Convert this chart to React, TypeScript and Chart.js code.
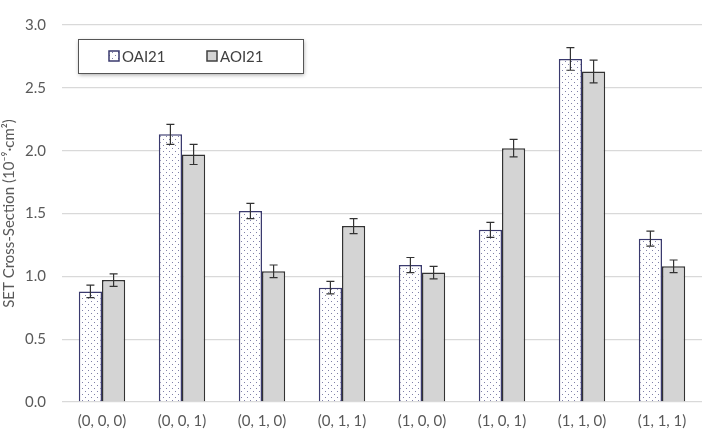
import React, { useEffect, useRef } from "react";
import { Chart, registerables } from "chart.js";

Chart.register(...registerables);

const categories = ["(0, 0, 0)", "(0, 0, 1)", "(0, 1, 0)", "(0, 1, 1)", "(1, 0, 0)", "(1, 0, 1)", "(1, 1, 0)", "(1, 1, 1)"];
const oaiValues = [0.88, 2.13, 1.52, 0.91, 1.09, 1.37, 2.73, 1.30];
const oaiErrors = [0.05, 0.08, 0.06, 0.05, 0.06, 0.06, 0.09, 0.06];
const aoiValues = [0.97, 1.97, 1.04, 1.40, 1.03, 2.02, 2.63, 1.08];
const aoiErrors = [0.05, 0.08, 0.05, 0.06, 0.05, 0.07, 0.09, 0.05];
const seriesLabels = ["OAI21", "AOI21"];
const yTitle = "SET Cross-Section (10\u207B\u2079\u00B7cm\u00B2)";

const FONT = "Lato, 'Open Sans', sans-serif";

function makePattern(): CanvasPattern | string {
  const c = document.createElement("canvas");
  c.width = 6;
  c.height = 6;
  const g = c.getContext("2d");
  if (!g) return "#ffffff";
  g.fillStyle = "#ffffff";
  g.fillRect(0, 0, 6, 6);
  g.fillStyle = "#8080a8";
  g.fillRect(1, 1, 1, 1);
  g.fillRect(4, 4, 1, 1);
  const p = g.createPattern(c, "repeat");
  return p || "#ffffff";
}

const errorBarPlugin = {
  id: "errorBars",
  afterDatasetsDraw(chart: any) {
    const ctx = chart.ctx;
    const y = chart.scales.y;
    const errs = [oaiErrors, aoiErrors];
    ctx.save();
    ctx.strokeStyle = "#333333";
    ctx.lineWidth = 1.2;
    chart.data.datasets.forEach((ds: any, di: number) => {
      const meta = chart.getDatasetMeta(di);
      meta.data.forEach((bar: any, i: number) => {
        const v = ds.data[i];
        const e = errs[di][i];
        const x = bar.x;
        const yt = y.getPixelForValue(v + e);
        const yb = y.getPixelForValue(v - e);
        ctx.beginPath();
        ctx.moveTo(x, yt);
        ctx.lineTo(x, yb);
        ctx.moveTo(x - 4, yt);
        ctx.lineTo(x + 4, yt);
        ctx.moveTo(x - 4, yb);
        ctx.lineTo(x + 4, yb);
        ctx.stroke();
      });
    });
    ctx.restore();
  },
};

const legendPlugin = {
  id: "boxLegend",
  afterDraw(chart: any) {
    const ctx = chart.ctx;
    const area = chart.chartArea;
    const x0 = area.left + 16;
    const y0 = area.top + 14;
    const w = 225;
    const h = 34;
    ctx.save();
    ctx.shadowColor = "rgba(0,0,0,0.35)";
    ctx.shadowBlur = 4;
    ctx.shadowOffsetX = 1;
    ctx.shadowOffsetY = 2;
    ctx.fillStyle = "#ffffff";
    ctx.fillRect(x0, y0, w, h);
    ctx.shadowColor = "transparent";
    ctx.strokeStyle = "#555555";
    ctx.lineWidth = 1;
    ctx.strokeRect(x0 + 0.5, y0 + 0.5, w, h);
    const items = [
      { label: seriesLabels[0], fill: chart.data.datasets[0].backgroundColor, stroke: "#3a3a6e", x: x0 + 31 },
      { label: seriesLabels[1], fill: "#d4d4d4", stroke: "#404040", x: x0 + 129 },
    ];
    ctx.font = `15px ${FONT}`;
    ctx.textBaseline = "middle";
    items.forEach((it) => {
      const sy = y0 + h / 2 - 5;
      ctx.fillStyle = it.fill;
      ctx.fillRect(it.x, sy, 10, 10);
      ctx.strokeStyle = it.stroke;
      ctx.lineWidth = 1.5;
      ctx.strokeRect(it.x, sy, 10, 10);
      ctx.fillStyle = "#404040";
      ctx.fillText(it.label, it.x + 13, y0 + h / 2 + 1);
    });
    ctx.restore();
  },
};

export default function App() {
  const ref = useRef<HTMLCanvasElement>(null);
  useEffect(() => {
    document.body.style.margin = "0";
    if (!ref.current) return;
    const pattern = makePattern();
    const chart = new Chart(ref.current, {
      type: "bar",
      data: {
        labels: categories,
        datasets: [
          {
            label: seriesLabels[0],
            data: oaiValues,
            backgroundColor: pattern as any,
            borderColor: "#3a3a6e",
            borderWidth: 1.5,
          },
          {
            label: seriesLabels[1],
            data: aoiValues,
            backgroundColor: "#d4d4d4",
            borderColor: "#333333",
            borderWidth: 1.5,
          },
        ],
      },
      options: {
        responsive: false,
        animation: false,
        layout: { padding: { top: 12, right: 11, left: 0, bottom: 10 } },
        datasets: { bar: { categoryPercentage: 0.58, barPercentage: 1 } },
        plugins: { legend: { display: false }, tooltip: { enabled: false } },
        scales: {
          x: {
            grid: { display: false },
            border: { display: false },
            ticks: { color: "#595959", font: { family: FONT, size: 15 }, padding: 2, maxRotation: 0 },
          },
          y: {
            min: 0,
            max: 3,
            afterFit: (s: any) => {
              s.width = 62;
            },
            ticks: {
              stepSize: 0.5,
              color: "#595959",
              font: { family: FONT, size: 15 },
              padding: 16,
              callback: (v: any) => Number(v).toFixed(1),
            },
            grid: { color: "#d9d9d9", lineWidth: 1.3, drawTicks: false },
            border: { display: false },
            title: { display: true, text: yTitle, color: "#595959", font: { family: FONT, size: 15 }, padding: { top: 0, bottom: 0 } },
          },
        },
      },
      plugins: [errorBarPlugin, legendPlugin],
    });
    return () => chart.destroy();
  }, []);
  return (
    <div style={{ width: 713, height: 442 }}>
      <canvas ref={ref} width={713} height={442} style={{ display: "block" }} />
    </div>
  );
}
